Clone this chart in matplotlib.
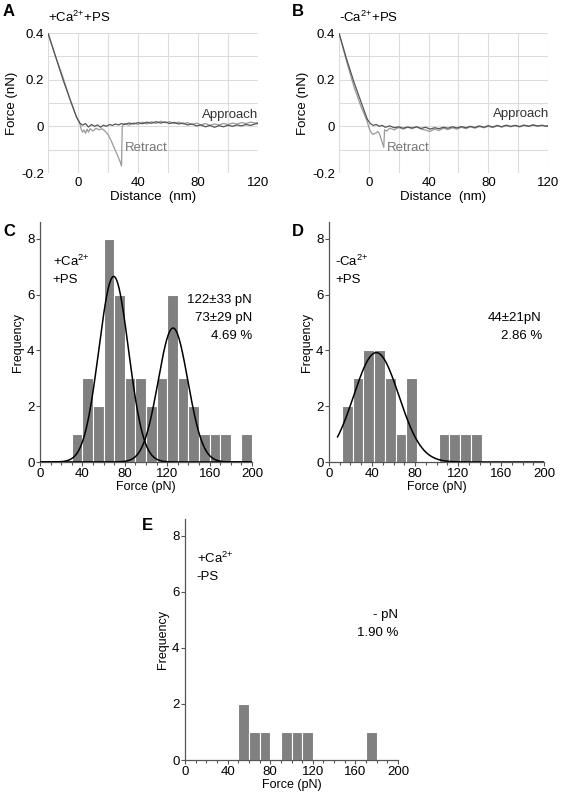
import numpy as np
import matplotlib
matplotlib.use("Agg")
import matplotlib.pyplot as plt
from matplotlib.ticker import MultipleLocator

plt.rcParams['font.family'] = ['Liberation Sans', 'DejaVu Sans']
plt.rcParams['mathtext.fontset'] = 'custom'
plt.rcParams['mathtext.rm'] = 'Liberation Sans'
plt.rcParams['mathtext.it'] = 'Liberation Sans'
plt.rcParams['mathtext.bf'] = 'Liberation Sans:bold'

# ---- force curves (panel A: +Ca2+ +PS) ----
a_app_x = [-20, -15, -10, -5, -1, 1, 3, 5, 7, 9, 11, 13, 15, 17, 19, 21, 23, 25, 27, 29,
           31, 34, 37, 40, 43, 46, 49, 52, 55, 58, 61, 64, 67, 70, 73, 76, 79, 82, 85,
           88, 91, 94, 97, 100, 103, 106, 109, 112, 115, 118, 120]
a_app_y = [0.40, 0.30, 0.20, 0.11, 0.04, 0.015, 0.005, 0.012, -0.003, 0.008, 0.0, 0.006,
           -0.004, 0.005, 0.0, 0.008, 0.004, 0.010, 0.006, 0.012, 0.008, 0.014, 0.010,
           0.016, 0.011, 0.018, 0.013, 0.020, 0.014, 0.019, 0.012, 0.017, 0.010, 0.014,
           0.006, 0.010, 0.002, 0.006, -0.002, 0.004, -0.004, 0.003, -0.002, 0.005, 0.0,
           0.006, 0.002, 0.008, 0.004, 0.010, 0.012]
a_ret_x = [-20, -15, -10, -5, -1, 1, 2, 3, 4, 5, 6, 7, 8, 10, 12, 14, 16, 18, 20, 22,
           24, 26, 28, 29, 29.5, 31, 34, 37, 40, 43, 46, 49, 52, 55, 58, 61, 64, 67, 70,
           73, 76, 79, 82, 85, 88, 91, 94, 97, 100, 103, 106, 109, 112, 115, 118, 120]
a_ret_y = [0.40, 0.30, 0.21, 0.11, 0.04, 0.02, -0.01, -0.025, -0.015, -0.03, -0.012,
           -0.025, -0.01, -0.02, -0.008, -0.015, -0.01, -0.02, -0.035, -0.06, -0.09,
           -0.12, -0.15, -0.17, 0.0, 0.012, 0.005, 0.015, 0.008, 0.018, 0.010, 0.020,
           0.012, 0.022, 0.015, 0.020, 0.012, 0.018, 0.010, 0.016, 0.008, 0.014, 0.006,
           0.012, 0.004, 0.010, 0.006, 0.012, 0.008, 0.014, 0.010, 0.016, 0.012, 0.018,
           0.014, 0.016]

# ---- force curves (panel B: -Ca2+ +PS) ----
b_app_x = [-20, -15, -10, -5, -1, 1, 3, 5, 7, 9, 11, 14, 17, 20, 23, 26, 29, 32, 35, 38,
           41, 44, 47, 50, 53, 56, 59, 62, 65, 68, 71, 74, 77, 80, 83, 86, 89, 92, 95,
           98, 101, 104, 107, 110, 113, 116, 119, 120]
b_app_y = [0.40, 0.29, 0.19, 0.10, 0.03, 0.012, 0.004, 0.008, 0.0, 0.004, -0.004, 0.002,
           -0.006, -0.002, -0.008, -0.003, -0.007, -0.002, -0.009, -0.004, -0.012,
           -0.006, -0.010, -0.004, -0.008, -0.002, -0.007, -0.001, -0.006, 0.0, -0.005,
           0.002, -0.004, 0.003, -0.003, 0.004, -0.002, 0.005, 0.0, 0.004, -0.002, 0.005,
           0.0, 0.006, 0.001, 0.004, 0.0, 0.002]
b_ret_x = [-20, -15, -10, -5, -1, 0, 1, 2, 3, 4, 5, 6, 7, 8, 9, 10, 10.5, 12, 14, 17, 20,
           23, 26, 29, 32, 35, 38, 41, 44, 47, 50, 53, 56, 59, 62, 65, 68, 71, 74, 77, 80,
           83, 86, 89, 92, 95, 98, 101, 104, 107, 110, 113, 116, 119, 120]
b_ret_y = [0.40, 0.28, 0.17, 0.08, 0.02, -0.005, -0.02, -0.03, -0.035, -0.03, -0.028,
           -0.022, -0.03, -0.05, -0.07, -0.09, -0.015, -0.02, -0.008, -0.015, -0.005,
           -0.012, -0.004, -0.010, -0.002, -0.012, -0.016, -0.022, -0.012, -0.018,
           -0.008, -0.014, -0.006, -0.012, -0.004, -0.010, -0.002, -0.008, -0.001, -0.006,
           0.0, -0.005, 0.002, -0.003, 0.003, -0.002, 0.004, 0.0, 0.005, 0.001, 0.006,
           0.002, 0.005, 0.001, 0.003]

# ---- histograms ----
c_edges = [30, 40, 50, 60, 70, 80, 90, 100, 110, 120, 130, 140, 150, 160, 170, 180, 190, 200]
c_counts = [1, 3, 2, 8, 6, 3, 3, 2, 3, 6, 3, 2, 1, 1, 1, 0, 1]
c_fits = [(69.5, 6.65, 14.0), (125.5, 4.8, 14.0)]  # (center, height, sigma)

d_edges = [12, 22, 32, 42, 52, 62, 72, 82, 92, 102, 112, 122, 132, 142]
d_counts = [2, 3, 4, 4, 3, 1, 3, 0, 0, 1, 1, 1, 1]
d_fits = [(44, 3.92, 21)]

e_edges = [50, 60, 70, 80, 90, 100, 110, 120, 130, 140, 150, 160, 170, 180]
e_counts = [2, 1, 1, 0, 1, 1, 1, 0, 0, 0, 0, 0, 1]
e_fits = []

W, H = 562, 805
fig = plt.figure(figsize=(W / 100, H / 100), dpi=100)


def box(l, r, t, b):
    return [l / W, 1 - b / H, (r - l) / W, (b - t) / H]


FS = 9
CA = 'Ca$^{2{+}}$'


def force_panel(rect, letter, cond, app, ret, app_pos, ret_pos, lx):
    ax = fig.add_axes(rect)
    ax.plot(ret[0], ret[1], color='#9a9a9a', lw=0.9)
    ax.plot(app[0], app[1], color='#555555', lw=0.9)
    ax.set_xlim(-20, 120)
    ax.set_ylim(-0.2, 0.4)
    ax.set_xticks([0, 40, 80, 120])
    ax.set_yticks([-0.2, 0, 0.2, 0.4])
    ax.set_yticklabels(['-0.2', '0', '0.2', '0.4'])
    ax.xaxis.set_minor_locator(MultipleLocator(20))
    ax.yaxis.set_minor_locator(MultipleLocator(0.1))
    ax.grid(True, which='both', color='#dcdcdc', lw=0.8)
    for s in ax.spines.values():
        s.set_visible(False)
    ax.tick_params(which='both', length=0, labelsize=FS + 0.5, pad=3)
    ax.set_xlabel('Distance  (nm)', fontsize=FS + 0.5, labelpad=1)
    ax.set_ylabel('Force (nN)', fontsize=FS + 0.5, labelpad=2)
    ax.text(app_pos[0], app_pos[1], 'Approach', fontsize=FS + 0.5, color='#333333',
            ha='right', va='center')
    ax.text(ret_pos[0], ret_pos[1], 'Retract', fontsize=FS + 0.5, color='#777777',
            ha='left', va='center')
    ax.text(-20, 0.465, cond, fontsize=FS + 0.5, ha='left', va='center')
    fig.text(lx / W, 1 - 12 / H, letter, fontsize=12, fontweight='bold',
             ha='left', va='center')
    return ax


force_panel(box(48, 258, 33, 173), 'A', '+' + CA + '+PS', (a_app_x, a_app_y),
            (a_ret_x, a_ret_y), (120, 0.05), (31, -0.093), 3)
force_panel(box(339, 548, 33, 173), 'B', '-' + CA + '+PS', (b_app_x, b_app_y),
            (b_ret_x, b_ret_y), (121, 0.054), (12, -0.093), 292)


def hist_panel(rect, letter, lpos, cond, edges, counts, fits, notes, fit_start):
    ax = fig.add_axes(rect)
    ax.bar(edges[:-1], counts, width=np.diff(edges), align='edge',
           color='#808080', edgecolor='white', linewidth=0.8, zorder=2)
    xs = np.linspace(fit_start, 200, 400)
    for mu, h, sg in fits:
        ax.plot(xs, h * np.exp(-(xs - mu) ** 2 / (2 * sg ** 2)), color='black',
                lw=1.1, zorder=3)
    ax.set_xlim(0, 200)
    ax.set_ylim(0, 8.6)
    ax.set_xticks([0, 40, 80, 120, 160, 200])
    ax.set_yticks([0, 2, 4, 6, 8])
    ax.xaxis.set_minor_locator(MultipleLocator(10))
    for s in ['top', 'right']:
        ax.spines[s].set_visible(False)
    for s in ['left', 'bottom']:
        ax.spines[s].set_color('#555555')
        ax.spines[s].set_linewidth(0.9)
    ax.tick_params(which='major', length=3, width=0.8, color='#555555',
                   labelsize=FS + 0.5, pad=1)
    ax.tick_params(which='minor', length=2, width=0.8, color='#555555')
    ax.set_xlabel('Force (pN)', fontsize=FS, labelpad=1)
    ax.set_ylabel('Frequency', fontsize=FS, labelpad=2)
    ax.text(cond[0], 7.2, cond[1], fontsize=FS + 0.5, ha='left', va='center')
    ax.text(cond[0], 6.52, cond[2], fontsize=FS + 0.5, ha='left', va='center')
    for i, t in enumerate(notes[1]):
        ax.text(notes[0], notes[2] - 0.64 * i, t, fontsize=FS + 0.5, ha='right',
                va='center')
    fig.text(lpos[0] / W, 1 - lpos[1] / H, letter, fontsize=12, fontweight='bold',
             ha='left', va='center')
    return ax


hist_panel(box(40, 252, 222, 462), 'C', (3, 232), (12, '+' + CA, '+PS'),
           c_edges, c_counts, c_fits,
           (200, ['122\u00b133 pN', '73\u00b129 pN', '4.69 %'], 5.8), 0)
hist_panel(box(329, 544, 222, 462), 'D', (292, 232), (6, '-' + CA, '+PS'),
           d_edges, d_counts, d_fits,
           (198, ['44\u00b121pN', '2.86 %'], 5.17), 8)
hist_panel(box(185, 398, 519, 760), 'E', (142, 525), (11, '+' + CA, '-PS'),
           e_edges, e_counts, e_fits,
           (200, ['- pN', '1.90 %'], 5.17), 0)

fig.savefig('out.png', dpi=100)
